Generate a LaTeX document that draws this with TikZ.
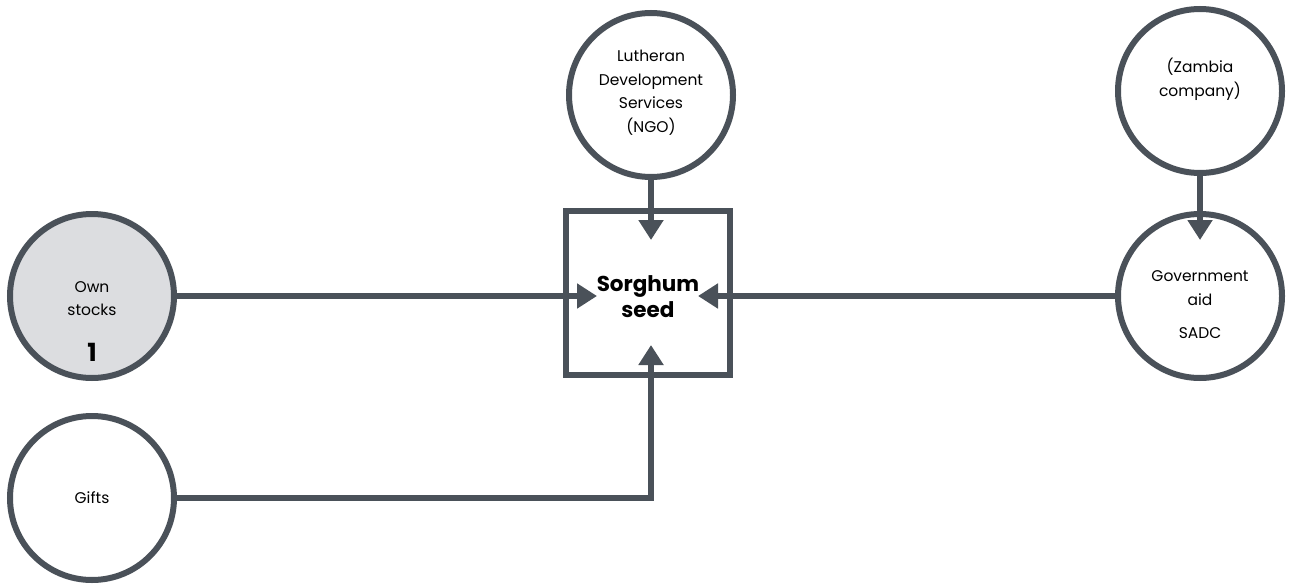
\documentclass[tikz,border=0pt]{standalone}
\usepackage{fontspec}
\setmainfont{Poppins}
\usetikzlibrary{arrows.meta}
\definecolor{dg}{HTML}{4A5159}
\definecolor{lg}{HTML}{DCDDE0}
\begin{document}
\begin{tikzpicture}[x=1pt,y=-1pt,
 circ/.style={circle, draw=dg, line width=6pt, minimum size=164pt, inner sep=0pt, fill=white},
 boxn/.style={draw=dg, line width=6pt, minimum size=164pt, inner sep=0pt, fill=white},
 txt/.style={align=center, inner sep=0pt, font=\fontsize{15.5}{23.5}\selectfont},
 btxt/.style={align=center, inner sep=0pt, font=\bfseries\fontsize{21.5}{26.5}\selectfont},
 arr/.style={draw=dg, line width=6pt, -{Triangle[width=24pt,length=20pt]}},
 conn/.style={draw=dg, line width=6pt}]
\useasboundingbox (0,0) rectangle (1290,586);
% nodes
\node[circ, fill=lg] (own) at (92,296) {};
\node[circ] (gifts) at (92,498) {};
\node[circ] (ngo) at (651,95) {};
\node[boxn] (box) at (648,292.5) {};
\node[circ] (zam) at (1200,91) {};
\node[circ] (gov) at (1200,296) {};
% texts
\node[txt] (ownT) at (92,298.5) {Own\\stocks};
\node[inner sep=0pt, font=\bfseries\fontsize{25}{28}\selectfont] (ownN) at (92,352) {1};
\node[txt] (giftsT) at (92,498) {Gifts};
\node[txt] (ngoT) at (651,92.5) {Lutheran\\Development\\Services\\(NGO)};
\node[btxt] (boxT) at (648,296.5) {Sorghum\\seed};
\node[txt] (zamT) at (1200,79.5) {(Zambia\\company)};
\node[txt] (govT) at (1200,288) {Government\\aid};
\node[txt] (govS) at (1200,333) {SADC};
% tips
\coordinate (tipW) at (597,296);
\coordinate (tipE) at (698,296);
\coordinate (tipN) at (651,240);
\coordinate (tipS) at (651,345);
\coordinate (tipG) at (1200,240);
\coordinate (bend) at (651,498);
% connectors
\draw[arr] (own.east) -- (tipW);
\draw[arr] (gov.west) -- (tipE);
\draw[arr] (ngo.south) -- (tipN);
\draw[arr] (zam.south) -- (tipG);
\draw[arr] (gifts.east) -- (bend) -- (tipS);
\end{tikzpicture}
\end{document}
